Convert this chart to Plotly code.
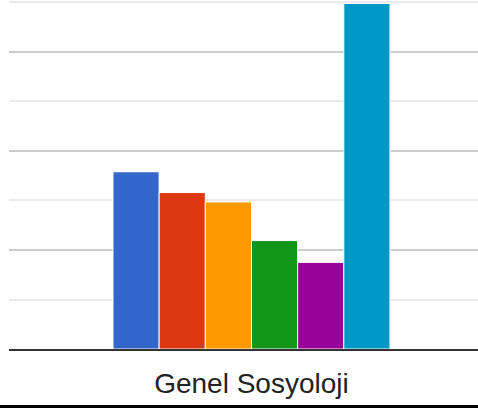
import plotly.graph_objs as go

category = ['Genel Sosyoloji']
series_names = ['Seri 1', 'Seri 2', 'Seri 3', 'Seri 4', 'Seri 5', 'Seri 6']
series_values = [3.58, 3.16, 2.97, 2.19, 1.75, 6.98]
colors = ['#3366cc', '#dc3912', '#ff9900', '#109618', '#990099', '#0099c6']

# Preparing data
data = [go.Bar(x=category, y=[v], name=n, marker=dict(color=c, line=dict(color='white', width=1)))
        for n, v, c in zip(series_names, series_values, colors)]

# Preparing layout
layout = go.Layout(
    width=478, height=408,
    margin=dict(l=9, r=0, t=0, b=59),
    paper_bgcolor='white', plot_bgcolor='white',
    showlegend=False,
    barmode='group', bargap=0.4265, bargroupgap=0,
    font=dict(family='Liberation Sans, Arial, sans-serif', color='#222222'),
    xaxis=dict(range=[-0.502, 0.469], showgrid=False, showline=True, linecolor='#333333',
               linewidth=2, tickfont=dict(size=28, color='#222222'), ticks='',
               ticklabelstandoff=8),
    yaxis=dict(range=[0, 7.05], dtick=2, showticklabels=False, zeroline=False,
               gridcolor='#cccccc', gridwidth=2,
               minor=dict(dtick=1, showgrid=True, gridcolor='#ebebeb', gridwidth=2)),
    shapes=[dict(type='line', xref='paper', yref='paper', x0=-0.0192, x1=1,
                 y0=-0.165, y1=-0.165, line=dict(color='black', width=3))],
)

fig = go.Figure(data=data, layout=layout)
# drop the default page margin so the chart sits at the window's corner
fig.write_html("out.html", config={'displayModeBar': False},
               post_script="document.body.style.margin='0';")
